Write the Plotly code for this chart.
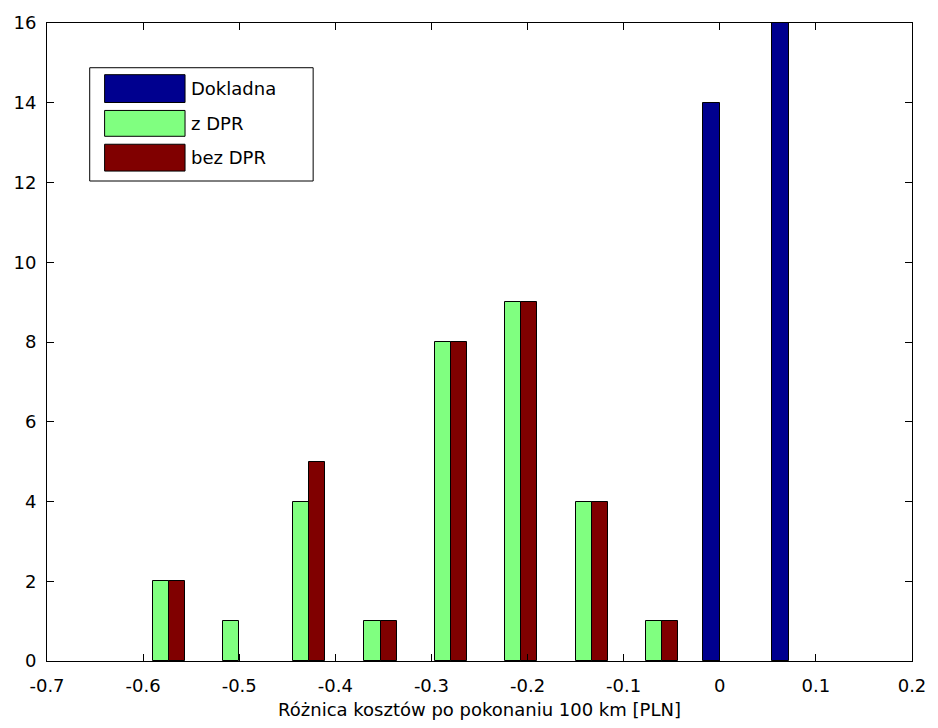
import plotly.graph_objects as go

# ---- data ----
bin_centers = [-0.573, -0.500, -0.427, -0.353, -0.280, -0.207, -0.133, -0.060]
z_dpr = [2, 1, 4, 1, 8, 9, 4, 1]
bez_dpr = [2, 0, 5, 1, 8, 9, 4, 1]
dokladna_x = [-0.009, 0.063]
dokladna_y = [14, 16]
x_ticks = [-0.7, -0.6, -0.5, -0.4, -0.3, -0.2, -0.1, 0, 0.1, 0.2]
x_tick_labels = ["-0.7", "-0.6", "-0.5", "-0.4", "-0.3", "-0.2", "-0.1", "0", "0.1", "0.2"]
y_ticks = [0, 2, 4, 6, 8, 10, 12, 14, 16]
series_names = ["Dokladna", "z DPR", "bez DPR"]
colors = ["#00008F", "#80FF80", "#800000"]

FONT = "DejaVu Sans"
bw = 0.0167
bw_blue = 0.0175


def nz(vals):
    # empty bins are drawn as no bar at all (as in the reference)
    return [v if v else None for v in vals]


fig = go.Figure()
fig.add_trace(go.Bar(x=dokladna_x, y=nz(dokladna_y), width=bw_blue, name=series_names[0],
                     marker=dict(color=colors[0], line=dict(color="black", width=1))))
fig.add_trace(go.Bar(x=[c - bw / 2 for c in bin_centers], y=nz(z_dpr), width=bw, name=series_names[1],
                     marker=dict(color=colors[1], line=dict(color="black", width=1))))
fig.add_trace(go.Bar(x=[c + bw / 2 for c in bin_centers], y=nz(bez_dpr), width=bw, name=series_names[2],
                     marker=dict(color=colors[2], line=dict(color="black", width=1))))

fig.update_traces(showlegend=False)

# manual MATLAB-like legend (paper coords)
L, T, W, H = 47, 20, 871, 642
def px(x):
    return (x - L) / W
def py(y):
    return 1 - (y - T) / H

shapes = [dict(type="rect", xref="paper", yref="paper", x0=px(90), x1=px(315), y0=py(179), y1=py(65),
               line=dict(color="black", width=1), fillcolor="white", layer="above")]
annotations = []
rows = [(72, 100), (108, 134), (142, 169)]
for (r0, r1), nm, col in zip(rows, series_names, colors):
    shapes.append(dict(type="rect", xref="paper", yref="paper", x0=px(105), x1=px(186), y0=py(r1), y1=py(r0),
                       line=dict(color="black", width=1), fillcolor=col, layer="above"))
    annotations.append(dict(xref="paper", yref="paper", x=px(190), y=py((r0 + r1) / 2), text=nm,
                            showarrow=False, xanchor="left", yanchor="middle",
                            font=dict(family=FONT, size=18, color="black")))

fig.update_layout(
    width=938, height=728,
    margin=dict(l=L, r=938 - L - W, t=T, b=728 - T - H),
    paper_bgcolor="white", plot_bgcolor="white",
    barmode="overlay", bargap=0,
    font=dict(family=FONT, size=18, color="black"),
    shapes=shapes, annotations=annotations,
    xaxis=dict(range=[-0.7, 0.2], tickvals=x_ticks, ticktext=x_tick_labels,
               ticks="inside", ticklen=7, tickcolor="black", showline=True, linecolor="black",
               linewidth=1, mirror="ticks", showgrid=False, zeroline=False, ticklabelstandoff=8,
               title=dict(text="Różnica kosztów po pokonaniu 100 km [PLN]", standoff=8,
                          font=dict(family=FONT, size=18))),
    yaxis=dict(range=[0, 16], tickvals=y_ticks, ticks="inside", ticklen=7, tickcolor="black",
               showline=True, linecolor="black", linewidth=1, mirror="ticks", showgrid=False,
               zeroline=False, ticklabelstandoff=6),
)

fig.write_html("out.html")
